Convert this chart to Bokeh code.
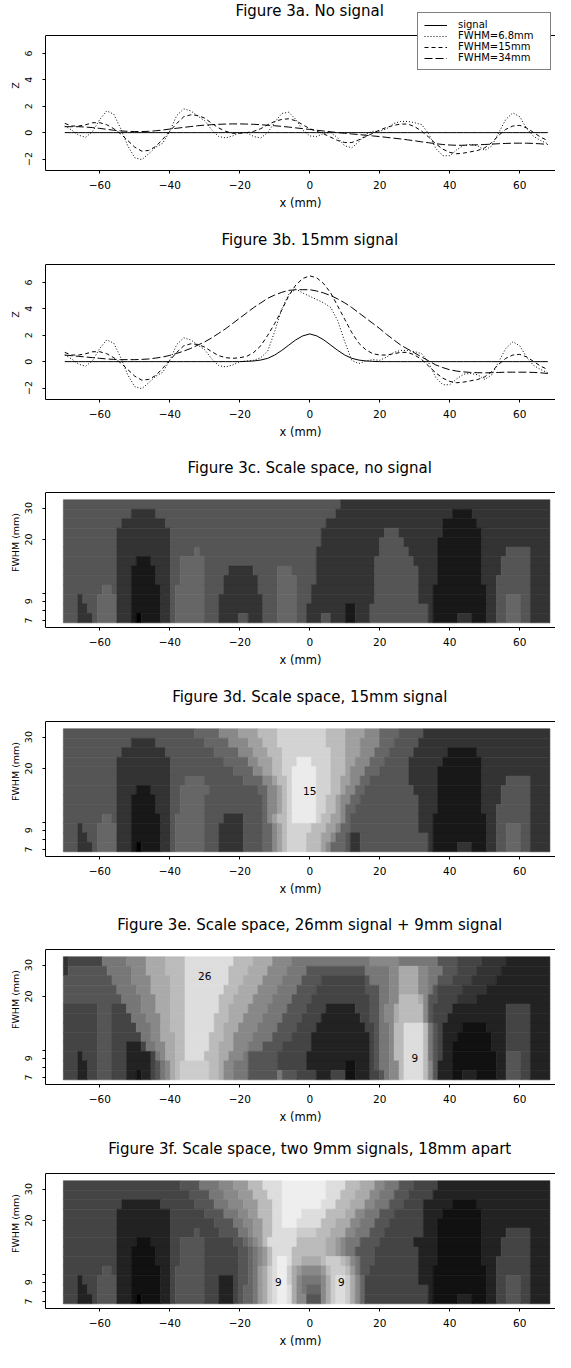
from bokeh.plotting import figure
from bokeh.models import (Range1d, FixedTicker, Label, Legend, LegendItem,
                          BasicTickFormatter, Span, Title)
from bokeh.layouts import column
from bokeh.embed import file_html
from bokeh.resources import INLINE

FONT = "DejaVu Sans"

# ---------------- data: line profiles (Z vs x) ----------------
x_mm = list(range(-70, 69, 2))

signal_a = [0.0] * 70
dotted_a = [0.5, 0.2, -0.2, -0.35, 0.1, 1.0, 1.65, 1.4, 0.3, -1.0,
            -1.9, -2.05, -1.6, -1.1, -0.8, 0.1, 1.3, 1.8, 1.65, 1.25,
            0.9, 0.2, -0.3, -0.4, -0.25, 0.0, 0.0, -0.3, -0.4, 0.0,
            0.8, 1.45, 1.55, 1.0, 0.2, -0.25, -0.3, -0.05, 0.0, -0.4,
            -1.0, -1.15, -0.7, -0.1, 0.1, 0.1, 0.3, 0.7, 0.85, 0.85,
            0.75, 0.6, -0.1, -1.2, -1.75, -1.75, -1.3, -0.95, -0.9, -1.0,
            -1.35, -1.0, 0.0, 1.0, 1.5, 1.2, 0.3, -0.3, -0.6, -0.85]
dashed_a = [0.7, 0.5, 0.5, 0.6, 0.75, 0.75, 0.6, 0.3, -0.1, -0.6,
            -1.1, -1.4, -1.35, -1.05, -0.5, 0.1, 0.7, 1.2, 1.35, 1.3,
            1.1, 0.7, 0.35, 0.1, -0.05, -0.05, 0.0, 0.1, 0.3, 0.6,
            0.85, 1.0, 1.05, 0.9, 0.6, 0.3, 0.1, -0.1, -0.35, -0.6,
            -0.75, -0.75, -0.55, -0.3, -0.05, 0.2, 0.4, 0.55, 0.65, 0.65,
            0.45, 0.1, -0.35, -0.85, -1.25, -1.5, -1.6, -1.55, -1.45, -1.35,
            -1.15, -0.75, -0.2, 0.25, 0.5, 0.55, 0.35, 0.0, -0.35, -0.6]
longdash_a = [0.45, 0.45, 0.45, 0.42, 0.38, 0.32, 0.25, 0.18, 0.13, 0.1,
              0.08, 0.08, 0.1, 0.14, 0.2, 0.27, 0.33, 0.4, 0.46, 0.52,
              0.57, 0.6, 0.63, 0.65, 0.66, 0.66, 0.65, 0.63, 0.6, 0.56,
              0.52, 0.47, 0.42, 0.36, 0.3, 0.24, 0.18, 0.12, 0.06, 0.0,
              -0.05, -0.1, -0.15, -0.2, -0.25, -0.3, -0.36, -0.42, -0.48, -0.55,
              -0.62, -0.7, -0.77, -0.84, -0.9, -0.94, -0.96, -0.96, -0.94, -0.92,
              -0.9, -0.87, -0.84, -0.82, -0.8, -0.8, -0.8, -0.82, -0.85, -0.9]

signal_b = [0, 0, 0, 0, 0, 0, 0, 0, 0, 0,
            0, 0, 0, 0, 0, 0, 0, 0, 0, 0,
            0, 0, 0, 0, 0, 0, 0.02, 0.05, 0.12, 0.25,
            0.5, 0.85, 1.25, 1.65, 1.95, 2.1, 1.95, 1.65, 1.25, 0.85,
            0.5, 0.25, 0.12, 0.05, 0.02, 0, 0, 0, 0, 0,
            0, 0, 0, 0, 0, 0, 0, 0, 0, 0,
            0, 0, 0, 0, 0, 0, 0, 0, 0, 0]
dotted_b = [0.5, 0.2, -0.2, -0.35, 0.1, 1.0, 1.65, 1.4, 0.3, -1.0,
            -1.9, -2.05, -1.6, -1.1, -0.8, 0.1, 1.3, 1.8, 1.65, 1.25,
            0.9, 0.2, -0.3, -0.4, -0.25, 0.0, 0.05, 0.1, 0.3, 0.8,
            2.3, 4.0, 5.1, 5.5, 5.2, 4.95, 4.7, 4.45, 4.1, 3.1,
            1.5, 0.1, -0.15, 0.05, 0.15, 0.1, 0.35, 0.7, 0.85, 0.85,
            0.75, 0.6, -0.1, -1.2, -1.75, -1.75, -1.3, -0.95, -0.9, -1.0,
            -1.35, -1.0, 0.0, 1.0, 1.5, 1.2, 0.3, -0.3, -0.6, -0.85]
dashed_b = [0.7, 0.5, 0.5, 0.6, 0.75, 0.75, 0.6, 0.3, -0.1, -0.6,
            -1.1, -1.4, -1.35, -1.05, -0.5, 0.1, 0.7, 1.2, 1.35, 1.3,
            1.1, 0.75, 0.45, 0.3, 0.25, 0.3, 0.4, 0.7, 1.2, 2.0,
            2.9, 3.9, 5.0, 5.8, 6.3, 6.5, 6.35, 5.9, 5.2, 4.2,
            3.2, 2.2, 1.4, 0.9, 0.6, 0.5, 0.5, 0.6, 0.7, 0.7,
            0.5, 0.15, -0.35, -0.85, -1.25, -1.5, -1.6, -1.55, -1.45, -1.35,
            -1.15, -0.75, -0.2, 0.25, 0.5, 0.55, 0.35, 0.0, -0.35, -0.6]
longdash_b = [0.5, 0.45, 0.4, 0.35, 0.3, 0.25, 0.2, 0.17, 0.15, 0.15,
              0.15, 0.17, 0.2, 0.27, 0.35, 0.47, 0.62, 0.8, 1.0, 1.25,
              1.5, 1.8, 2.15, 2.5, 2.9, 3.3, 3.7, 4.1, 4.45, 4.8,
              5.05, 5.25, 5.4, 5.45, 5.45, 5.45, 5.35, 5.2, 5.0, 4.75,
              4.45, 4.1, 3.7, 3.3, 2.9, 2.5, 2.05, 1.65, 1.25, 0.95,
              0.65, 0.35, 0.05, -0.25, -0.45, -0.62, -0.72, -0.78, -0.82, -0.84,
              -0.85, -0.84, -0.82, -0.8, -0.8, -0.8, -0.8, -0.82, -0.85, -0.9]

series_names = ["signal", "FWHM=6.8mm", "FWHM=15mm", "FWHM=34mm"]
x_ticks = [-60, -40, -20, 0, 20, 40, 60]
z_ticks = [-2, 0, 2, 4, 6]
fwhm_ticks = [7, 8, 9, 10, 20, 30]
fwhm_labels = {7: "7", 8: "", 9: "9", 10: "", 20: "20", 30: "30"}

# ---------------- data: scale-space images ----------------
# 100 columns of 1.39 mm from x = -70.4 mm; 13 log-spaced FWHM rows 6.8..33.4 mm
# rows listed top (largest FWHM) first, as run-lengths "value:count"
img_x0, img_dx, img_ncol = -70.4, 1.39, 100
img_fwhm_lo, img_fwhm_hi, img_nrow = 6.8, 33.4, 13

scale_c_rows = [
    "3:57 2:43",
    "3:14 2:5 3:37 2:24 1:4 2:16",
    "3:12 2:9 3:33 2:24 1:7 2:15",
    "3:11 2:11 3:31 2:13 3:3 2:9 1:8 2:14",
    "3:11 2:11 3:31 2:12 3:5 2:7 1:9 2:14",
    "3:11 2:11 3:5 4:1 3:24 2:13 3:6 2:6 1:9 2:5 3:5 2:4",
    "3:11 2:4 1:3 2:4 3:2 4:5 3:23 2:12 3:8 2:5 1:9 2:4 3:6 2:4",
    "3:11 2:3 1:5 2:3 3:2 4:5 3:5 2:5 3:5 4:3 3:5 2:12 3:9 2:4 1:9 2:4 3:6 2:4",
    "3:11 2:3 1:5 2:3 3:2 4:5 3:4 2:7 3:4 4:4 3:4 2:12 3:9 2:4 1:9 2:3 3:7 2:4",
    "3:8 4:2 3:1 2:3 1:6 2:2 3:1 4:6 3:4 2:7 3:4 4:4 3:3 2:13 3:9 2:3 1:11 2:2 3:7 2:4",
    "3:3 2:1 3:3 4:4 2:3 1:6 2:2 3:1 4:6 3:3 2:9 3:3 4:4 3:3 2:13 3:9 2:3 1:11 2:2 3:2 4:3 3:2 2:4",
    "3:3 2:2 3:2 4:4 2:3 1:6 2:2 3:1 4:6 3:3 2:9 3:3 4:4 3:2 2:8 1:2 2:3 3:12 2:1 1:11 2:2 3:2 4:3 3:2 2:4",
    "3:3 2:3 3:1 4:4 2:3 1:1 0:1 1:4 2:2 3:1 4:6 3:3 2:4 3:2 2:3 3:3 4:4 3:2 2:3 3:2 2:3 1:2 2:3 3:12 2:1 1:5 2:3 1:3 2:2 3:2 4:3 3:2 2:4",
]
scale_d_rows = [
    "3:27 4:5 5:4 6:4 7:4 8:10 7:4 6:4 5:3 4:4 3:5 2:26",
    "3:14 2:5 3:10 4:5 5:4 6:3 7:3 8:10 7:4 6:3 5:4 4:3 3:5 2:27",
    "3:12 2:9 3:10 4:5 5:3 6:3 7:3 8:10 7:3 6:3 5:3 4:3 3:5 2:7 1:6 2:15",
    "3:11 2:11 3:11 4:5 5:2 6:3 7:2 8:3 9:3 8:4 7:3 6:2 5:3 4:3 3:5 2:7 1:8 2:14",
    "3:11 2:11 3:13 4:4 5:2 6:2 7:2 8:2 9:5 8:3 7:3 6:1 5:3 4:3 3:6 2:6 1:9 2:14",
    "3:11 2:11 3:3 4:4 3:8 4:4 5:2 6:1 7:2 8:1 9:5 8:3 7:2 6:2 5:2 4:2 3:8 2:6 1:9 2:5 3:5 2:4",
    "3:11 2:4 1:3 2:4 3:2 4:6 3:10 4:2 5:2 6:1 7:1 8:1 9:5 8:3 7:2 6:1 5:2 4:2 3:10 2:5 1:9 2:4 3:6 2:4",
    "3:11 2:3 1:5 2:3 3:2 4:5 3:12 4:1 5:2 6:1 7:1 8:1 9:5 8:2 7:2 6:1 5:2 4:2 3:12 2:4 1:9 2:4 3:6 2:4",
    "3:11 2:3 1:5 2:3 3:2 4:5 3:12 4:1 5:2 6:1 7:1 8:1 9:5 8:2 7:2 6:1 5:1 4:2 3:13 2:4 1:9 2:3 3:7 2:4",
    "3:8 4:2 3:1 2:3 1:6 2:2 3:1 4:6 3:4 2:4 3:4 4:1 5:1 6:1 7:2 8:1 9:5 8:1 7:2 6:2 5:1 4:1 3:14 2:3 1:11 2:2 3:7 2:4",
    "3:3 2:1 3:3 4:4 2:3 1:6 2:2 3:1 4:6 3:3 2:5 3:4 4:2 5:1 6:1 7:1 8:5 7:3 6:2 5:1 4:2 3:14 2:3 1:11 2:2 3:2 4:3 3:2 2:4",
    "3:3 2:2 3:2 4:4 2:3 1:6 2:2 3:1 4:6 3:3 2:5 3:4 4:2 5:1 6:1 7:1 8:4 7:3 6:2 5:1 4:2 3:1 2:2 3:14 2:1 1:11 2:2 3:2 4:3 3:2 2:4",
    "3:3 2:3 3:1 4:4 2:3 1:1 0:1 1:4 2:2 3:1 4:6 3:3 2:5 3:4 4:2 5:1 6:1 7:1 8:4 7:3 6:1 5:1 4:3 3:1 2:2 3:14 2:1 1:5 2:3 1:3 2:2 3:2 4:3 3:2 2:4",
]
scale_e_rows = [
    "3:1 4:7 7:5 8:4 a:4 b:4 d:10 b:4 a:4 8:4 7:16 8:6 7:8 5:4 4:5 3:5 2:9",
    "3:1 5:8 7:5 8:3 a:4 b:4 d:9 b:4 a:4 8:4 7:4 5:12 7:5 8:2 a:4 8:2 7:3 5:3 4:4 3:5 2:10",
    "5:10 7:4 8:4 a:4 b:3 d:9 b:3 a:4 8:4 7:4 5:4 4:9 5:1 7:4 8:2 a:4 8:2 7:2 5:3 4:4 3:5 2:11",
    "5:11 7:4 8:3 a:4 b:3 d:8 b:3 a:4 8:4 7:4 5:4 4:10 5:3 7:2 8:2 a:4 8:2 7:1 5:1 4:5 3:5 2:13",
    "5:12 7:4 8:3 a:3 b:3 d:7 b:3 a:4 8:4 7:4 5:4 4:12 5:2 7:2 8:2 b:4 a:1 8:1 5:2 4:4 3:4 2:15",
    "4:7 5:3 4:3 7:3 8:3 a:3 b:3 d:7 b:2 a:4 8:4 7:4 5:4 4:4 2:6 4:3 5:2 7:1 8:2 a:1 b:5 8:1 5:1 4:4 2:11 4:5 2:4",
    "4:7 5:3 4:4 7:3 8:3 a:2 b:3 d:6 b:3 a:3 8:4 7:4 5:4 4:4 2:8 4:2 5:2 7:1 8:2 a:1 b:5 8:1 5:1 4:3 2:12 4:5 2:4",
    "4:7 5:3 4:5 7:3 8:2 a:2 b:3 d:6 b:2 a:3 8:4 7:4 5:4 4:4 2:10 4:2 5:1 7:2 8:1 b:2 d:4 b:1 7:1 5:1 4:1 2:4 1:5 2:4 4:5 2:4",
    "4:7 5:3 4:6 7:2 8:2 a:3 b:2 d:5 b:3 a:2 8:4 7:4 5:4 4:4 2:12 4:1 5:1 7:2 8:1 b:2 d:4 b:1 7:1 5:1 4:1 2:3 1:7 2:3 4:5 2:4",
    "4:7 5:3 4:3 2:3 4:1 7:2 8:2 a:2 b:2 d:5 b:2 a:3 8:3 7:3 5:4 4:6 2:12 4:1 5:1 7:2 8:1 b:2 d:4 b:1 7:1 5:1 4:1 2:2 1:8 2:3 4:5 2:4",
    "4:3 2:1 4:3 5:3 4:3 2:5 4:1 7:1 8:1 a:2 b:2 d:4 b:3 a:2 8:3 7:1 5:6 4:6 2:13 4:1 5:1 7:2 8:1 b:2 d:4 b:1 7:1 5:1 4:1 2:2 1:9 2:2 5:3 4:2 2:4",
    "4:3 2:2 4:2 5:3 4:3 2:5 4:1 5:1 7:1 8:1 a:1 b:1 c:6 b:2 a:1 8:2 7:3 5:6 4:6 2:8 1:2 2:3 4:1 5:1 7:2 8:2 b:1 d:4 b:1 8:1 5:1 2:3 1:9 2:2 5:3 4:2 2:4",
    "4:3 2:2 4:2 5:3 4:3 2:2 1:1 2:2 4:1 5:1 7:1 8:1 a:1 b:1 c:6 b:2 a:1 8:2 7:3 5:6 7:1 5:3 4:4 2:3 4:3 1:2 2:3 4:2 5:1 7:1 8:2 b:1 d:4 b:1 8:1 5:1 2:3 1:2 2:3 1:4 2:2 5:3 4:2 2:4",
]
scale_f_rows = [
    "4:24 5:4 7:4 8:3 9:3 b:3 d:4 e:9 d:4 b:3 a:3 8:2 7:3 5:3 4:5 2:23",
    "4:26 5:4 7:3 8:3 9:3 b:3 d:3 e:9 d:3 b:3 a:3 8:2 7:3 5:3 4:5 2:24",
    "4:12 2:8 4:7 5:4 7:3 8:3 9:3 b:3 d:2 e:8 d:3 b:3 a:3 8:2 7:3 5:3 4:4 2:6 1:5 2:15",
    "4:11 2:11 4:7 5:4 7:3 8:2 9:2 b:3 d:2 e:4 d:5 b:4 a:2 8:2 7:3 5:3 4:6 2:4 1:8 2:14",
    "4:11 2:11 4:9 5:4 7:2 8:2 9:2 b:2 d:2 e:3 d:5 b:3 a:3 8:2 7:3 5:3 4:7 2:3 1:9 2:14",
    "4:11 2:11 4:5 5:1 4:4 5:4 7:2 8:1 9:2 b:2 d:5 c:4 b:3 a:3 8:2 7:3 5:3 4:8 2:3 1:9 2:5 4:5 2:4",
    "4:11 2:4 1:3 2:4 4:2 5:5 4:6 5:2 6:1 7:1 8:1 9:1 b:1 d:6 b:6 a:2 9:1 8:1 7:3 5:4 4:7 2:5 1:9 2:4 4:6 2:4",
    "4:11 2:3 1:5 2:3 4:2 5:5 4:7 5:2 6:1 7:1 8:1 9:1 b:1 d:4 b:7 a:2 9:1 8:1 7:2 5:4 4:9 2:4 1:9 2:4 4:6 2:4",
    "4:11 2:3 1:5 2:3 4:2 5:5 4:7 5:2 6:1 7:1 8:1 9:1 b:1 d:1 e:2 d:1 b:2 a:4 b:1 c:3 b:1 a:1 8:1 7:1 5:3 4:9 2:4 1:9 2:3 4:7 2:4",
    "4:8 5:2 4:1 2:3 1:6 2:2 4:1 5:6 4:7 5:2 6:1 7:1 9:1 a:1 c:1 d:1 e:2 c:1 a:1 9:1 8:4 9:1 b:1 c:3 b:1 9:1 7:1 5:2 4:10 2:3 1:11 2:2 4:7 2:4",
    "4:3 2:1 4:3 5:4 2:3 1:6 2:2 4:1 5:6 4:3 2:3 4:1 5:2 6:1 7:1 9:1 a:1 c:1 d:1 e:2 c:1 a:1 8:1 7:4 8:1 a:1 c:1 d:2 c:1 a:1 8:1 6:1 4:11 2:3 1:11 2:2 4:2 5:3 4:2 2:4",
    "4:3 2:2 4:2 5:4 2:3 1:6 2:2 4:1 5:6 4:3 2:3 4:1 5:1 6:2 7:1 9:1 a:1 c:1 d:1 e:2 d:1 a:1 8:1 7:1 6:3 8:1 a:1 c:1 d:2 c:1 a:1 8:1 6:1 4:13 2:1 1:11 2:2 4:2 5:3 4:2 2:4",
    "4:3 2:3 4:1 5:4 2:3 1:1 0:1 1:4 2:2 4:1 5:6 4:3 2:3 4:1 5:1 6:2 7:1 9:1 a:1 c:1 d:1 e:2 d:1 a:1 8:2 5:3 8:1 a:1 c:1 d:2 c:1 a:1 8:1 6:1 4:13 2:1 1:5 2:3 1:3 2:2 4:2 5:3 4:2 2:4",
]

level_grays = {"0": "#000000", "1": "#181818", "2": "#333333", "3": "#555555",
               "4": "#666666", "5": "#888888", "6": "#a0a0a0", "7": "#bbbbbb",
               "8": "#d3d3d3", "9": "#ebebeb"}
hex_grays = {c: "#" + c * 6 for c in "0123456789abcdef"}

marks_d = [("15", 0, 15)]
marks_e = [("26", -30, 26), ("9", 30, 9)]
marks_f = [("9", -9, 9), ("9", 9, 9)]

titles = ["Figure 3a. No signal", "Figure 3b. 15mm signal",
          "Figure 3c. Scale space, no signal",
          "Figure 3d. Scale space, 15mm signal",
          "Figure 3e. Scale space, 26mm signal + 9mm signal",
          "Figure 3f. Scale space, two 9mm signals, 18mm apart"]

# ---------------- layout ----------------
BOX_H = 135          # height of the boxed plotting area, px
HEAD = 35            # room above the box for the title, px
HEIGHTS = [229, 228, 229, 228, 224, 214]
X_RANGE = (-75.5, 70.2)
Z_BOX = (-2.87, 7.36)
FWHM_BOX = (6.40, 36.7)


def style_axis(ax, vertical):
    ax.axis_line_color = "black"
    ax.axis_line_width = 1
    ax.major_tick_line_color = "black"
    ax.major_tick_out = 3
    ax.major_tick_in = 0
    ax.minor_tick_out = 0
    ax.minor_tick_in = 0
    ax.major_label_text_font = FONT
    ax.major_label_text_color = "black"
    ax.axis_label_text_font = FONT
    ax.axis_label_text_font_style = "normal"
    ax.axis_label_text_color = "black"
    if vertical:
        ax.major_label_orientation = "vertical"
        ax.major_label_text_font_size = "9.5px"
        ax.major_label_standoff = 10
        ax.axis_label_text_font_size = "9.5px"
        ax.axis_label_standoff = 2
    else:
        ax.major_label_text_font_size = "10.5px"
        ax.major_label_standoff = 7


def make_fig(idx, logy):
    h = HEIGHTS[idx]
    if logy:
        lo, hi = FWHM_BOX
        top = hi * (hi / lo) ** (HEAD / BOX_H)
    else:
        lo, hi = Z_BOX
        top = hi + (hi - lo) * HEAD / BOX_H
    kw = dict(width=555, height=h, output_backend="svg", toolbar_location=None,
              x_range=Range1d(*X_RANGE), y_range=Range1d(lo, top),
              min_border_left=45, min_border_right=0, min_border_top=0,
              min_border_bottom=h - HEAD - BOX_H, title=None)
    if logy:
        p = figure(y_axis_type="log", **kw)
    else:
        p = figure(**kw)
    p.outline_line_color = None
    p.grid.visible = False
    p.background_fill_color = "white"
    p.border_fill_color = "white"

    xa = p.xaxis[0]
    xa.ticker = FixedTicker(ticks=x_ticks)
    style_axis(xa, False)

    ya = p.yaxis[0]
    style_axis(ya, True)
    ya.bounds = (lo, hi)
    if logy:
        ya.ticker = FixedTicker(ticks=fwhm_ticks)
        ya.formatter = BasicTickFormatter()
        ya.major_label_overrides = fwhm_labels
        ya.axis_label = "FWHM (mm)"
    else:
        ya.ticker = FixedTicker(ticks=z_ticks)
        ya.axis_label = "Z"

    # top edge of the box
    p.add_layout(Span(location=hi, dimension="width", line_color="black",
                      line_width=1))
    # panel title, centred over x = 0
    p.add_layout(Label(x=0, y=BOX_H + 25, x_units="data", y_units="screen",
                       text=titles[idx], text_align="center", text_baseline="middle",
                       text_font=FONT, text_font_size="15px", text_color="black"))
    # x-axis title below the axis
    p.add_layout(Title(text="x (mm)", align="center", offset=10, standoff=5,
                       text_font=FONT, text_font_size="11.5px",
                       text_font_style="normal", text_color="black"), "below")
    return p


def line_panel(idx, sig, dot, dash, ldash, with_legend):
    p = make_fig(idx, False)
    r0 = p.line(x_mm, sig, line_color="black", line_width=1)
    r1 = p.line(x_mm, dot, line_color="black", line_width=1, line_dash="1 2")
    r2 = p.line(x_mm, dash, line_color="black", line_width=1, line_dash="4 3")
    r3 = p.line(x_mm, ldash, line_color="black", line_width=1, line_dash="8 3")
    if with_legend:
        items = [LegendItem(label=n, renderers=[r]) for n, r in
                 zip(series_names, [r0, r1, r2, r3])]
        lg = Legend(items=items, location=(372, 100), orientation="vertical",
                    label_text_font=FONT, label_text_font_size="10px",
                    label_text_color="black", glyph_width=23, glyph_height=10,
                    label_height=10, label_width=86, label_standoff=11,
                    padding=6, spacing=0, margin=0,
                    border_line_color="black", border_line_width=1,
                    background_fill_color="white", background_fill_alpha=1.0)
        p.add_layout(lg)
    return p


def image_panel(idx, rows, pal, marks):
    p = make_fig(idx, True)
    ratio = (img_fwhm_hi / img_fwhm_lo) ** (1.0 / img_nrow)
    L, R, B, T, C = [], [], [], [], []
    for i, row in enumerate(rows):
        r = img_nrow - 1 - i
        bot = img_fwhm_lo * ratio ** r
        topv = img_fwhm_lo * ratio ** (r + 1)
        col = 0
        for tok in row.split():
            ch, n = tok.split(":")
            n = min(int(n), img_ncol - col)
            if n <= 0:
                break
            L.append(img_x0 + col * img_dx)
            R.append(img_x0 + (col + n) * img_dx)
            B.append(bot)
            T.append(topv)
            C.append(pal[ch])
            col += n
    p.quad(left=L, right=R, bottom=B, top=T, fill_color=C, line_color=C,
           line_width=0.6)
    for txt, xm, fw in marks:
        p.add_layout(Label(x=xm, y=fw, text=txt, text_align="center",
                           text_baseline="middle", text_font=FONT,
                           text_font_size="10.5px", text_color="black"))
    return p


figs = [
    line_panel(0, signal_a, dotted_a, dashed_a, longdash_a, True),
    line_panel(1, signal_b, dotted_b, dashed_b, longdash_b, False),
    image_panel(2, scale_c_rows, level_grays, []),
    image_panel(3, scale_d_rows, level_grays, marks_d),
    image_panel(4, scale_e_rows, hex_grays, marks_e),
    image_panel(5, scale_f_rows, hex_grays, marks_f),
]

layout = column(*figs)
open("out.html", "w").write(file_html(layout, INLINE))
